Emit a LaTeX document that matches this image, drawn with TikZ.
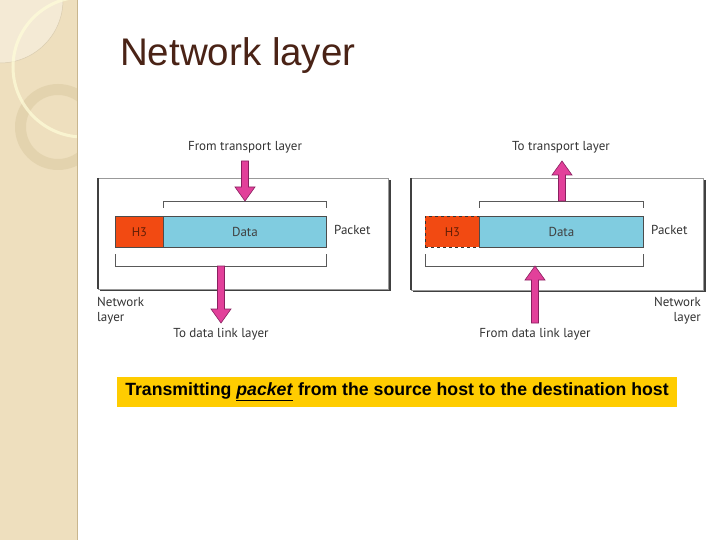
\documentclass[tikz,border=0pt]{standalone}
\usepackage{fontspec}
\setmainfont{Liberation Sans}
\newfontfamily\labfont{PT Sans}
\usetikzlibrary{calc}
\definecolor{side}{HTML}{EEDFBE}
\definecolor{sidelight}{HTML}{F4EAD5}
\definecolor{sidering}{HTML}{E3D3AE}
\definecolor{sideline}{HTML}{C9B68E}
\definecolor{titlec}{HTML}{4A2316}
\definecolor{hred}{HTML}{F24A12}
\definecolor{dblue}{HTML}{80CCE0}
\definecolor{pinkarr}{HTML}{E2409A}
\definecolor{pinkedge}{HTML}{8A2060}
\definecolor{capy}{HTML}{FFCC00}
\tikzset{
  lab/.style={font=\labfont\fontsize{13}{15}\selectfont, text=black!80, inner sep=0pt},
  hbox/.style={draw=black!70, line width=0.8pt, fill=hred, minimum height=31pt, inner sep=0pt, font=\labfont\fontsize{12.5}{14}\selectfont, text=black!60!hred},
  dbox/.style={draw=black!70, line width=0.8pt, fill=dblue, minimum height=31pt, inner sep=0pt, font=\labfont\fontsize{13}{15}\selectfont, text=black!75},
  panel/.style={draw=black!40, line width=0.6pt, fill=white},
  shadowline/.style={draw=black!75, line width=2pt},
  bracket/.style={draw=black!65, line width=0.8pt},
  blk/.style={fill=pinkarr, draw=pinkedge, line width=0.6pt, line join=miter},
  downblock/.style={to path={ -- ($(\tikztostart)+(3.5,0)$) -- ($(\tikztotarget)+(3.5,-14)$) -- ($(\tikztotarget)+(10,-14)$) -- (\tikztotarget) -- ($(\tikztotarget)+(-10,-14)$) -- ($(\tikztotarget)+(-3.5,-14)$) -- ($(\tikztostart)+(-3.5,0)$) -- cycle}},
  upblock/.style={to path={ -- ($(\tikztostart)+(3.5,0)$) -- ($(\tikztotarget)+(3.5,14)$) -- ($(\tikztotarget)+(10,14)$) -- (\tikztotarget) -- ($(\tikztotarget)+(-10,14)$) -- ($(\tikztotarget)+(-3.5,14)$) -- ($(\tikztostart)+(-3.5,0)$) -- cycle}}
}
\begin{document}
\begin{tikzpicture}[x=1pt,y=-1pt]
\useasboundingbox (0,0) rectangle (720,540);
\fill[white] (0,0) rectangle (720,540);
% sidebar
\fill[side] (0,0) rectangle (78,540);
\begin{scope}
  \clip (0,0) rectangle (77,540);
  \fill[sidelight] (0,0) circle[radius=63];
  \draw[sideline!70, line width=0.5pt] (0,0) circle[radius=63];
  \fill[sidering, even odd rule] (58,127) circle[radius=43] (58,127) circle[radius=32];
  \draw[white!85!yellow, line width=3pt, opacity=0.7] (83,67) circle[radius=70];
\end{scope}
\draw[sideline, line width=1.5pt] (77.5,0) -- (77.5,540);
% title
\node[anchor=base west, inner sep=0pt, text=titlec, font=\fontsize{38.5}{42}\selectfont] (title) at (120,66) {Network layer};

% ===== left panel =====
\draw[shadowline] (100,290) -- (389.5,290) -- (389.5,180);
\draw[panel] (98,178) rectangle (388,289);
\draw[black!75, line width=1.2pt] (98,178) -- (98,289);
\node[hbox, minimum width=48pt, anchor=north west] (h3a) at (115,216) {H3};
\node[dbox, minimum width=163pt, anchor=north west] (da) at (163,216) {Data};
\draw[bracket] (163,208) -- (163,201) -- (326,201) -- (326,208);
\draw[bracket] (115,254) -- (115,266) -- (326,266) -- (326,254);
\node[lab] (fromtr) at (245,147) {From transport layer};
\node[lab] (todl) at (221,334) {To data link layer};
\node[lab, anchor=west] (pka) at (334,230) {Packet};
\node[lab, anchor=north west, align=left] (nla) at (97,297) {Network\\layer};
\coordinate (a1s) at (245,161);
\coordinate (a1t) at (245,201);
\coordinate (a2s) at (221,266);
\coordinate (a2t) at (221,323);
\draw[blk] (a1s) to[downblock] (a1t);
\draw[blk] (a2s) to[downblock] (a2t);

% ===== right panel =====
\draw[shadowline] (413,291) -- (704.5,291) -- (704.5,180);
\draw[panel] (411,178) rectangle (703,290);
\draw[black!75, line width=1.2pt] (411,178) -- (411,290);
\node[hbox, minimum width=54pt, anchor=north west, dashed, draw=black!80] (h3b) at (425,216) {H3};
\node[dbox, minimum width=164pt, anchor=north west] (db) at (479,216) {Data};
\draw[bracket] (479,208) -- (479,201) -- (643,201) -- (643,208);
\draw[bracket] (425,254) -- (425,266) -- (643,266) -- (643,254);
\node[lab] (totr) at (561,147) {To transport layer};
\node[lab] (fromdl) at (535,334) {From data link layer};
\node[lab, anchor=west] (pkb) at (651,230) {Packet};
\node[lab, anchor=north east, align=right] (nlb) at (701,297) {Network\\layer};
\coordinate (b1s) at (562,201);
\coordinate (b1t) at (562,161);
\coordinate (b2s) at (535,323);
\coordinate (b2t) at (535,266);
\draw[blk] (b1s) to[upblock] (b1t);
\draw[blk] (b2s) to[upblock] (b2t);

% caption
\node[fill=capy, minimum width=560pt, minimum height=30pt, inner sep=0pt, font=\bfseries\fontsize{17.7}{20}\selectfont] (cap) at (397,392) {Transmitting \underline{\textit{packet}} from the source host to the destination host};
\end{tikzpicture}
\end{document}
